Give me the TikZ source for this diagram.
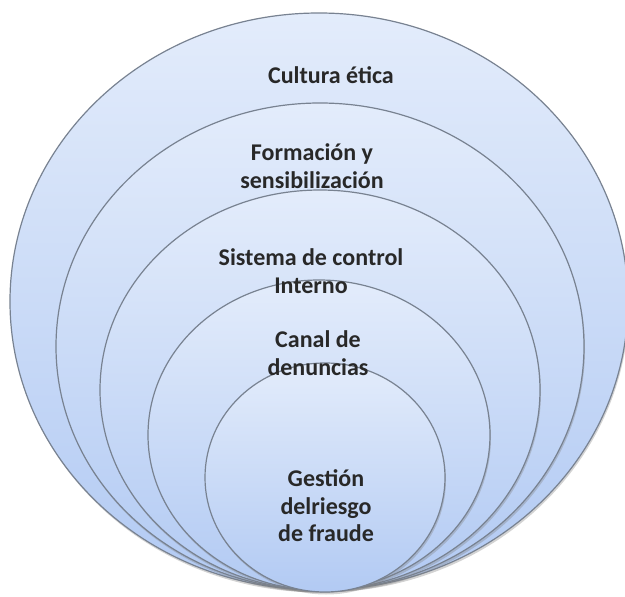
\documentclass[tikz,border=0pt]{standalone}
\usepackage{fontspec}
\setmainfont{Carlito}
\usetikzlibrary{shapes.geometric, shadows}
\definecolor{RingTop}{RGB}{227,236,251}
\definecolor{RingBottom}{RGB}{178,202,243}
\definecolor{RingEdge}{RGB}{120,130,145}
\definecolor{RingInk}{RGB}{40,40,40}

\begin{document}
\begin{tikzpicture}[x=1pt, y=-1pt,
    ring/.style={ellipse, inner sep=0pt, draw=RingEdge, line width=1.2pt,
      top color=RingTop, bottom color=RingBottom,
      drop shadow={shadow xshift=1pt, shadow yshift=-2.5pt, opacity=0.35}},
    ringtext/.style={font=\bfseries\fontsize{24}{27.5}\selectfont, text=RingInk, align=center}]
    \useasboundingbox (0,0) rectangle (625,597);

    % Rings, outer to inner
    \node[ring, minimum width=618, minimum height=577] (etica) at (319,301.5) {};
    \node[ring, minimum width=528, minimum height=487] (formacion) at (320,346.5) {};
    \node[ring, minimum width=440, minimum height=400] (control) at (320,390) {};
    \node[ring, minimum width=342, minimum height=310] (denuncias) at (319,435) {};
    \node[ring, minimum width=240, minimum height=229] (riesgo) at (325,477.5) {};

    % Labels
    \node[ringtext] (t-etica) at (331,75) {Cultura ética};
    \node[ringtext] (t-formacion) at (312,166) {Formación y\\sensibilización};
    \node[ringtext] (t-control) at (311,271) {Sistema de control\\Interno};
    \node[ringtext] (t-denuncias) at (318,353) {Canal de\\denuncias};
    \node[ringtext] (t-riesgo) at (326,506) {Gestión\\delriesgo\\de fraude};
\end{tikzpicture}
\end{document}
